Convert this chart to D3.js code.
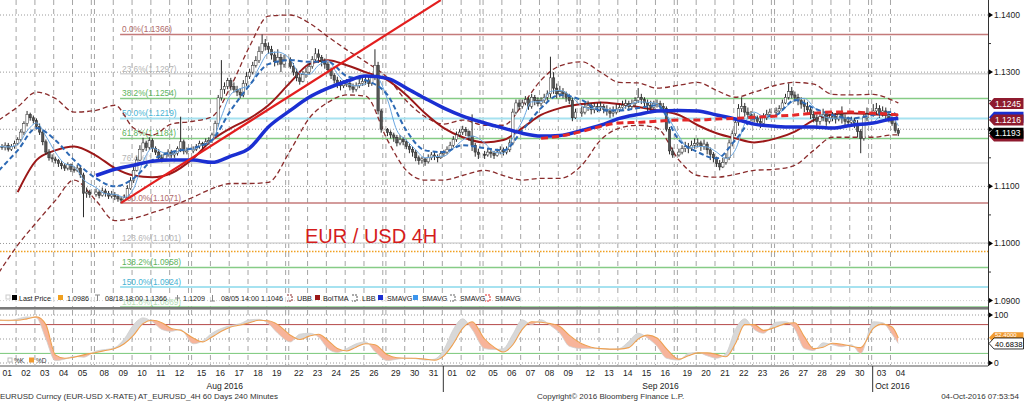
<!DOCTYPE html>
<html><head><meta charset="utf-8">
<script src="https://cdn.jsdelivr.net/npm/d3@7/dist/d3.min.js"></script>
<style>
html,body{margin:0;padding:0;background:#fff;overflow:hidden}
svg{display:block}
text{font-family:"Liberation Sans",Arial,sans-serif}
</style></head>
<body><svg id="chart" width="1024" height="401"></svg>
<script>
// ---------------- DATA ----------------
const tradingDays = [
"2016-08-01","2016-08-02","2016-08-03","2016-08-04","2016-08-05",
"2016-08-08","2016-08-09","2016-08-10","2016-08-11","2016-08-12",
"2016-08-15","2016-08-16","2016-08-17","2016-08-18","2016-08-19",
"2016-08-22","2016-08-23","2016-08-24","2016-08-25","2016-08-26",
"2016-08-29","2016-08-30","2016-08-31","2016-09-01","2016-09-02",
"2016-09-05","2016-09-06","2016-09-07","2016-09-08","2016-09-09",
"2016-09-12","2016-09-13","2016-09-14","2016-09-15","2016-09-16",
"2016-09-19","2016-09-20","2016-09-21","2016-09-22","2016-09-23",
"2016-09-26","2016-09-27","2016-09-28","2016-09-29","2016-09-30",
"2016-10-03","2016-10-04"];
const barsPerDay = 6;
const firstOpenPips = 1168;
// 4H bars, prices in pips above 1.0000 (1170 = 1.1170)
const closePips = [
1170,1168,1172,1165,1170,1175, 1182,1195,1210,1226,1220,1215, 1205,1195,1178,1160,1150,1148, 1145,1140,1136,1132,1138,1130, 1128,1132,1120,1088,1090,1086,
1090,1084,1092,1088,1083,1086, 1082,1078,1076,1080,1096,1110, 1128,1146,1165,1176,1168,1180, 1166,1160,1150,1148,1156,1160, 1155,1158,1166,1178,1162,1162,
1165,1170,1175,1172,1178,1180, 1190,1210,1255,1270,1275,1285, 1275,1270,1265,1260,1280,1292, 1300,1312,1320,1336,1350,1345, 1340,1330,1318,1326,1314,1322,
1310,1300,1290,1284,1296,1300, 1310,1322,1332,1326,1318,1314, 1304,1294,1286,1280,1276,1280, 1280,1274,1270,1276,1280,1284, 1286,1280,1290,1312,1232,1200,
1194,1190,1186,1176,1182,1178, 1170,1165,1160,1150,1145,1148, 1143,1150,1155,1152,1150,1157, 1160,1165,1172,1182,1190,1195, 1200,1196,1188,1172,1160,1156,
1155,1160,1158,1154,1160,1164, 1160,1164,1176,1230,1246,1240, 1246,1252,1240,1256,1250,1245, 1250,1256,1262,1290,1272,1262, 1266,1262,1256,1250,1220,1230,
1230,1238,1242,1234,1240,1238, 1240,1235,1232,1228,1230,1235, 1238,1242,1245,1240,1245,1250, 1256,1252,1246,1242,1238,1245, 1245,1240,1236,1200,1162,1155,
1160,1166,1170,1166,1172,1175, 1176,1170,1174,1164,1156,1150, 1140,1134,1142,1150,1176,1192, 1212,1236,1240,1230,1226,1222, 1220,1214,1210,1220,1226,1230,
1232,1236,1246,1256,1266,1260, 1256,1250,1244,1240,1234,1226, 1220,1214,1222,1226,1214,1220, 1222,1218,1226,1220,1214,1212, 1216,1210,1196,1184,1220,1226,
1232,1236,1228,1232,1226,1220, 1210,1198,1193];
const highPips = [
1176,1174,1177,1176,1174,1180, 1186,1200,1214,1232,1229,1224, 1219,1210,1199,1182,1165,1156, 1152,1148,1144,1140,1142,1140, 1135,1138,1136,1124,1098,1094,
1096,1094,1098,1096,1092,1092, 1090,1086,1082,1086,1102,1116, 1134,1152,1172,1185,1180,1186, 1184,1170,1165,1156,1160,1165, 1164,1162,1170,1222,1182,1168,
1170,1174,1180,1178,1184,1186, 1194,1215,1260,1321,1282,1290, 1290,1282,1276,1272,1286,1300, 1306,1318,1328,1345,1366,1358, 1352,1346,1336,1340,1332,1330,
1326,1316,1306,1298,1302,1308, 1316,1328,1342,1340,1330,1324, 1318,1308,1298,1292,1286,1286, 1288,1284,1280,1282,1288,1290, 1292,1292,1296,1340,1318,1236,
1202,1198,1194,1190,1190,1186, 1182,1174,1170,1164,1154,1152, 1150,1156,1160,1160,1156,1162, 1164,1170,1178,1188,1196,1200, 1206,1204,1198,1226,1176,1166,
1162,1166,1166,1162,1166,1170, 1168,1170,1182,1236,1252,1252, 1252,1258,1256,1262,1260,1256, 1256,1262,1268,1327,1300,1280, 1276,1272,1266,1262,1256,1236,
1240,1246,1250,1246,1246,1246, 1248,1244,1242,1238,1240,1244, 1244,1250,1252,1250,1252,1256, 1272,1262,1256,1252,1250,1250, 1252,1250,1246,1240,1204,1168,
1166,1172,1178,1176,1180,1184, 1184,1180,1182,1178,1168,1160, 1152,1146,1150,1158,1182,1198, 1218,1244,1256,1246,1238,1232, 1228,1224,1220,1228,1234,1236,
1238,1242,1252,1262,1280,1274, 1266,1262,1256,1252,1248,1240, 1232,1226,1230,1236,1232,1226, 1230,1228,1232,1240,1226,1222, 1222,1220,1216,1200,1226,1238,
1244,1246,1242,1240,1238,1232, 1222,1214,1202];
const lowPips = [
1162,1164,1163,1161,1162,1166, 1172,1178,1190,1205,1215,1210, 1200,1190,1172,1155,1145,1142, 1140,1134,1130,1127,1128,1125, 1124,1125,1115,1046,1080,1080,
1082,1079,1082,1082,1078,1079, 1076,1073,1071,1074,1078,1094, 1106,1126,1144,1160,1162,1164, 1160,1155,1145,1142,1144,1152, 1150,1150,1154,1160,1156,1156,
1158,1162,1166,1166,1170,1173, 1176,1188,1205,1250,1262,1270, 1268,1264,1258,1254,1256,1276, 1288,1296,1308,1316,1332,1338, 1332,1322,1310,1312,1300,1308,
1306,1294,1284,1278,1282,1290, 1296,1306,1318,1316,1310,1306, 1298,1288,1280,1272,1268,1272, 1274,1268,1264,1266,1272,1276, 1278,1274,1276,1286,1226,1194,
1188,1184,1178,1170,1172,1172, 1165,1158,1152,1144,1138,1140, 1136,1140,1146,1146,1142,1148, 1152,1156,1162,1168,1178,1186, 1190,1188,1180,1162,1152,1148,
1148,1152,1150,1148,1152,1156, 1154,1156,1160,1172,1226,1234, 1236,1242,1234,1236,1242,1240, 1240,1246,1250,1255,1262,1254, 1256,1254,1248,1244,1214,1218,
1222,1226,1232,1226,1228,1230, 1232,1228,1224,1220,1222,1226, 1230,1234,1236,1232,1236,1240, 1246,1244,1238,1232,1228,1234, 1238,1234,1230,1196,1156,1150,
1152,1156,1160,1158,1162,1166, 1168,1162,1164,1156,1146,1142, 1134,1128,1132,1138,1146,1170, 1188,1206,1230,1222,1218,1214, 1212,1206,1202,1208,1216,1222,
1224,1228,1232,1244,1252,1254, 1248,1242,1236,1230,1226,1218, 1212,1206,1208,1214,1206,1210, 1214,1210,1214,1210,1204,1204, 1206,1202,1186,1158,1180,1214,
1222,1226,1220,1222,1218,1212, 1206,1194,1188];
// indicator readings, one per day (first bar of each day) + last bar
const upperBand = [1216,1239,1265,1254,1230,1233,1242,1202,1190,1209,1214,1222,1275,1345,1398,1400,1386,1362,1339,1318,1290,1250,1222,1209,1216,1207,1207,1242,1286,1311,1318,1300,1282,1281,1272,1277,1282,1268,1256,1265,1277,1282,1279,1261,1260,1261,1251,1246];
const lowerBand = [949,997,1037,1075,1111,1075,1040,1044,1054,1065,1081,1096,1105,1105,1107,1163,1219,1247,1260,1258,1181,1128,1111,1111,1119,1128,1119,1111,1114,1114,1137,1181,1202,1207,1202,1146,1119,1116,1121,1128,1130,1137,1163,1186,1186,1186,1190,1190];
const bolTma = [null,1090,1146,1163,1170,1154,1132,1119,1116,1123,1149,1181,1202,1219,1242,1282,1314,1321,1312,1300,1286,1260,1228,1202,1186,1177,1181,1202,1225,1237,1244,1247,1244,1239,1233,1225,1207,1193,1184,1177,1184,1196,1216,1226,1228,1226,1225,1225];
const smaLong = [null,null,null,null,null,1119,1130,1137,1144,1146,1146,1142,1153,1167,1204,1233,1256,1272,1284,1293,1289,1272,1254,1237,1223,1211,1202,1193,1188,1189,1198,1207,1219,1226,1232,1233,1232,1225,1218,1209,1205,1204,1204,1202,1207,1211,1218,1219];
const smaMid = [1128,1163,1202,1181,1146,1114,1100,1114,1146,1160,1167,1181,1233,1277,1314,1321,1318,1318,1293,1286,1260,1198,1163,1160,1172,1167,1163,1198,1237,1260,1251,1233,1233,1237,1242,1181,1160,1149,1181,1219,1225,1251,1237,1225,1219,1225,1230,1219];
const smaRed = [null,null,null,null,null,null,null,null,null,null,null,null,null,null,null,null,null,null,null,null,null,null,null,null,null,null,null,null,1184,1188,1196,1205,1211,1212,1214,1216,1216,1218,1219,1221,1223,1225,1228,1230,1230,1228,1226,1225];
// readings every 3 bars (half day) + last bar
const smaShort = [1170,1169,1173,1197,1211,1188,1160,1140,1135,1112,1098,1087,1086,1081,1096,1143,1167,1160,1156,1163,1165,1173,1179,1222,1261,1271,1277,1308,1333,1335,1322,1298,1296,1312,1320,1297,1280,1276,1280,1294,1252,1198,1181,1164,1150,1152,1153,1166,1181,1188,1176,1160,1158,1185,1214,1248,1248,1266,1268,1260,1241,1236,1238,1234,1234,1242,1248,1247,1245,1226,1188,1167,1170,1169,1160,1149,1164,1210,1230,1223,1224,1238,1251,1254,1239,1223,1219,1220,1217,1207,1212,1226,1222,1206];
const stochD = [89,89,89,92,96,80,17,10,12,17,22,26,30,40,58,82,89,84,72,68,52,44,54,66,75,79,84,89,88,80,58,49,56,60,47,30,25,33,40,38,17,11,10,10,8,6,15,40,72,86,50,33,23,38,70,86,85,82,76,58,40,33,30,29,29,32,50,58,52,30,8,15,21,21,18,13,40,80,80,68,75,82,84,55,30,33,41,39,35,32,72,81,75,52.4];
const stochK = [90,88,92,96,94,50,5,8,14,12,25,28,32,50,80,94,86,70,66,70,40,46,62,72,78,82,90,91,82,62,44,60,62,54,30,22,30,40,44,24,5,8,10,9,6,8,28,70,92,70,30,28,30,60,90,80,90,78,62,35,30,30,30,28,30,45,62,52,35,10,6,20,22,15,10,20,70,92,70,62,85,86,70,30,26,42,38,34,38,20,86,84,60,40.6838];
// Fibonacci retracement (low 1.1071 on 9 Aug -> high 1.1366 on 18 Aug)
const fibPct = ["0.0%","23.6%","38.2%","50.0%","61.8%","76.4%","100.0%","123.6%","138.2%","150.0%","161.8%"];
const fibPrice = [1.1366,1.1297,1.1254,1.1219,1.1184,1.1141,1.1071,1.1001,1.0958,1.0924,1.0889];
const fibKind = ["end","grey","green","cyan","green","grey","end","grey","green","cyan","green"];
const fibAnchorBar = 38;
const trendBars = [38, 137];
const trendPrices = [1.1071, 1.1426];
const refPrice = 1.0986;
const priceTicks = [1.09,1.10,1.11,1.12,1.13,1.14];
const priceTickLabelled = [true,true,true,false,true,true];
const minorTicks = [1.095,1.105,1.115,1.125,1.135];
const stochTicks = [0,100];
const stochLevels = [100,80,50,20,0];
const tagPrices = [1.1245,1.1188,1.1221,1.1216,1.1193];
const tagTexts = ["1.1245","","","1.1216","1.1193"];
const tagColors = ["#8e1a2e","#8e1a2e","#1a2fd0","#8e1a2e","#000000"];

// ---------------- LAYOUT ----------------
const svg = d3.select("#chart");
const PL = 0, PR = 988, MT = 0, MB = 307, LT = 310, LB = 365;
const P = v => 1 + v/10000;
const parse = d3.timeParse("%Y-%m-%d");
const dts = tradingDays.map(parse);
const slotStart = []; let wk = 0;
dts.forEach((d,i)=>{ if(i>0 && d3.timeDay.count(dts[i-1], d) > 1) wk++; slotStart.push(barsPerDay*i + wk); });
const nSlots = slotStart[slotStart.length-1] + barsPerDay;
const x = d3.scaleLinear().domain([0, nSlots]).range([-2.7, -2.7 + 3.134*nSlots]);
const y = d3.scaleLinear().domain([1.09, 1.14]).range([300.6, 15]);
const ys = d3.scaleLinear().domain([0, 100]).range([363, 315]);
const nBars = closePips.length;
const barX = i => x(slotStart[Math.floor(i/barsPerDay)] + (i % barsPerDay) + 0.5);
const dailyBars = d3.range(tradingDays.length).map(k=>k*barsPerDay).concat([nBars-1]);
const halfBars = d3.range(Math.ceil(nBars/3)).map(k=>k*3).concat([nBars-1]);

svg.append("rect").attr("width",1024).attr("height",401).attr("fill","#fff");
const defs = svg.append("defs");
defs.append("clipPath").attr("id","cm").append("rect").attr("x",PL).attr("y",MT).attr("width",PR-PL).attr("height",MB-MT);
defs.append("clipPath").attr("id","cl").append("rect").attr("x",PL).attr("y",LT).attr("width",PR-PL).attr("height",LB-LT);

const main = svg.append("g").attr("clip-path","url(#cm)");
const low = svg.append("g").attr("clip-path","url(#cl)");

// horizontal grid
main.selectAll(".hg").data(priceTicks).join("line")
  .attr("x1",PL).attr("x2",PR).attr("y1",d=>y(d)).attr("y2",d=>y(d))
  .attr("stroke","#9a9a9a").attr("stroke-dasharray","1,2");

// vertical grid (day boundaries; double lines at weekends)
const vlines = [];
for (let d=1; d<tradingDays.length; d++){
  vlines.push(x(slotStart[d]));
  if (slotStart[d]-slotStart[d-1] > barsPerDay) vlines.push(x(slotStart[d-1]+barsPerDay));
}
[[main,MT,MB],[low,LT,LB]].forEach(([g,a,b])=>{
  g.selectAll(".vg").data(vlines).join("line")
   .attr("x1",d=>d).attr("x2",d=>d).attr("y1",a).attr("y2",b)
   .attr("stroke","#a5a5a5").attr("stroke-dasharray","5,4");
});

// reference (orange dotted)
main.append("line").attr("x1",PL).attr("x2",PR).attr("y1",y(refPrice)).attr("y2",y(refPrice))
  .attr("stroke","#f0a020").attr("stroke-width",1.5).attr("stroke-dasharray","1.5,1.5");

// fibonacci
const fibLine = {end:"#c47a7a", grey:"#d6d6d6", green:"#86cc86", cyan:"#a6e2f0"};
const fibText = {end:"#b06a6a", grey:"#b4b4b4", green:"#5cb45c", cyan:"#48b4d4"};
const fx0 = barX(fibAnchorBar) - 1;
fibPrice.forEach((p,i)=>{
  main.append("line").attr("x1",fx0).attr("x2",PR).attr("y1",y(p)).attr("y2",y(p))
    .attr("stroke",fibLine[fibKind[i]]).attr("stroke-width",fibKind[i]==="cyan"?2:1.5);
  main.append("text").attr("x",fx0+2).attr("y",y(p)-2).attr("font-size",8.3)
    .attr("fill",fibText[fibKind[i]]).text(fibPct[i]+"("+p.toFixed(4)+")");
});

// line helper
function series(bars, vals){ return bars.map((b,k)=>[barX(b), vals[k]]); }
const lg = d3.line().defined(d=>d[1]!=null).x(d=>d[0]).y(d=>y(P(d[1]))).curve(d3.curveMonotoneX);
function draw(bars, vals, color, w, dash){
  main.append("path").attr("d", lg(series(bars, vals))).attr("fill","none")
   .attr("stroke",color).attr("stroke-width",w).attr("stroke-dasharray",dash||null)
   .attr("stroke-linejoin","round");
}

// bollinger
draw(dailyBars, upperBand, "#8a2c2c", 1.3, "5,3");
draw(dailyBars, lowerBand, "#8a2c2c", 1.3, "5,3");
draw(dailyBars, bolTma, "#9c1818", 2);

// candles
const cg = main.append("g");
closePips.forEach((c,i)=>{
  const o = i ? closePips[i-1] : firstOpenPips;
  const cx = barX(i);
  cg.append("line").attr("x1",cx).attr("x2",cx).attr("y1",y(P(highPips[i]))).attr("y2",y(P(lowPips[i])))
    .attr("stroke","#2a2a2a").attr("stroke-width",1);
  const top = y(P(Math.max(o,c))), bot = y(P(Math.min(o,c)));
  cg.append("rect").attr("x",cx-1.2).attr("width",2.4).attr("y",top).attr("height",Math.max(1,bot-top))
    .attr("fill", c>=o ? "#ffffff" : "#555").attr("stroke","#2a2a2a").attr("stroke-width",0.5);
});

// moving averages
draw(halfBars, smaShort, "#6aa6e0", 1);
draw(dailyBars, smaMid, "#2d69b4", 2, "5,3");
draw(dailyBars, smaLong, "#1b2fd2", 3.5);
draw(dailyBars, smaRed, "#e42828", 3, "7,4");

// trend line
{
  const xa = barX(trendBars[0]), ya = y(trendPrices[0]);
  const xb = barX(trendBars[1]), yb = y(trendPrices[1]);
  main.append("line").attr("x1",xa).attr("y1",ya).attr("x2",xb).attr("y2",yb)
    .attr("stroke","#e31e1e").attr("stroke-width",2.2);
}

// title annotation
main.append("text").attr("x",305).attr("y",243).attr("font-size",20).attr("fill","#d41c1c")
  .text("EUR / USD 4H");

// legend row (semi-transparent band over the pane)
svg.append("rect").attr("x",0).attr("y",293).attr("width",PR).attr("height",12).attr("fill","#fff").attr("opacity",0.55);
const leg = svg.append("g").attr("font-size",7.2).attr("fill","#222");
const ly = 298;
const lt = (x0,s)=>leg.append("text").attr("x",x0).attr("y",ly+2.5).text(s);
leg.append("rect").attr("x",6).attr("y",ly-3).attr("width",4).attr("height",4).attr("fill","none").attr("stroke","#ccc");
leg.append("rect").attr("x",12).attr("y",ly-3).attr("width",5).attr("height",5).attr("fill","#000");
lt(19,"Last Price");
leg.append("rect").attr("x",58).attr("y",ly-3).attr("width",5).attr("height",5).attr("fill","#f0a020");
lt(67, refPrice.toFixed(4));
leg.append("path").attr("d",`M95,${ly-3}h5M97.5,${ly-3}v6`).attr("stroke","#888");
lt(105,"08/18 18:00 " + fibPrice[0].toFixed(4));
leg.append("path").attr("d",`M175,${ly}h5M177.5,${ly-3}v6`).attr("stroke","#888");
lt(183,"1.1209");
leg.append("path").attr("d",`M210,${ly+3}h5M212.5,${ly-3}v6`).attr("stroke","#888");
lt(221,"08/05 14:00 1.1046");
const icon = (x0,col)=>leg.append("path").attr("d",`M${x0},${ly-3}h5v6h-5`).attr("fill","none").attr("stroke",col).attr("stroke-dasharray","2,1");
const sq = (x0,col)=>leg.append("rect").attr("x",x0).attr("y",ly-3).attr("width",5).attr("height",5).attr("fill",col);
icon(287,"#8a2c2c"); lt(297,"UBB");
sq(315,"#9c1818"); lt(323,"BolTMA");
icon(352,"#555"); lt(362,"LBB");
sq(378,"#1b2fd2"); lt(387,"SMAVG");
sq(413,"#3c96ee"); lt(422,"SMAVG");
icon(450,"#666"); lt(460,"SMAVG");
icon(485,"#e42828"); lt(495,"SMAVG");

// separator between panes
svg.append("rect").attr("x",0).attr("y",MB).attr("width",PR).attr("height",2.6).attr("fill","#7a7a7a");

// ---------------- STOCHASTIC PANE ----------------
low.selectAll(".sl").data(stochLevels).join("line")
  .attr("x1",PL).attr("x2",PR).attr("y1",d=>ys(d)).attr("y2",d=>ys(d))
  .attr("stroke",d=>d===80?"#b44848":d===20?"#78c878":"#9a9a9a")
  .attr("stroke-dasharray",d=>(d===80||d===20)?null:"1,2");
const sD = halfBars.map((b,k)=>[barX(b), stochD[k], stochK[k]]);
defs.append("clipPath").attr("id","above").append("path")
  .attr("d", d3.area().x(d=>d[0]).y0(LT).y1(d=>ys(d[1])).curve(d3.curveMonotoneX)(sD));
defs.append("clipPath").attr("id","below").append("path")
  .attr("d", d3.area().x(d=>d[0]).y0(LB).y1(d=>ys(d[1])).curve(d3.curveMonotoneX)(sD));
const between = d3.area().x(d=>d[0]).y0(d=>ys(d[1])).y1(d=>ys(d[2])).curve(d3.curveMonotoneX)(sD);
low.append("g").attr("clip-path","url(#above)").append("path").attr("d",between).attr("fill","#d8d8d8");
low.append("g").attr("clip-path","url(#below)").append("path").attr("d",between).attr("fill","#f7b49a");
low.append("path").attr("d", d3.line().x(d=>d[0]).y(d=>ys(d[2])).curve(d3.curveMonotoneX)(sD))
  .attr("fill","none").attr("stroke","#cfcfcf").attr("stroke-width",0.8);
low.append("path").attr("d", d3.line().x(d=>d[0]).y(d=>ys(d[1])).curve(d3.curveMonotoneX)(sD))
  .attr("fill","none").attr("stroke","#eea050").attr("stroke-width",1.1);
low.append("rect").attr("x",8).attr("y",358).attr("width",4).attr("height",4).attr("fill","#fff").attr("stroke","#bbb");
low.append("text").attr("x",14).attr("y",362.5).attr("font-size",6.5).attr("fill","#333").text("%K");
low.append("rect").attr("x",29).attr("y",357.5).attr("width",5).attr("height",5).attr("fill","#f09a30");
low.append("text").attr("x",36).attr("y",362.5).attr("font-size",6.5).attr("fill","#333").text("%D");

// ---------------- AXES ----------------
svg.append("line").attr("x1",PR+0.5).attr("x2",PR+0.5).attr("y1",0).attr("y2",LB+1).attr("stroke","#333");
svg.append("line").attr("x1",0).attr("x2",PR).attr("y1",LB+1).attr("y2",LB+1).attr("stroke","#555");

const ra = svg.append("g").attr("font-size",8.5).attr("fill","#222");
priceTicks.forEach((t,i)=>{
  ra.append("path").attr("d",`M${PR+1},${y(t)-2.5}l4,2.5l-4,2.5z`).attr("fill","#000");
  if (priceTickLabelled[i]) ra.append("text").attr("x",PR+6).attr("y",y(t)).attr("dy","0.35em").text(t.toFixed(4));
});
minorTicks.forEach(t=>{
  ra.append("line").attr("x1",PR).attr("x2",PR+3).attr("y1",y(t)).attr("y2",y(t)).attr("stroke","#333");
});
stochTicks.forEach(t=>{
  ra.append("path").attr("d",`M${PR+1},${ys(t)-2.5}l4,2.5l-4,2.5z`).attr("fill","#000");
  ra.append("text").attr("x",PR+6).attr("y",ys(t)).attr("dy","0.35em").text(t);
});

// price tags
function tag(yc, bg, txt, fg, stroke, fs, dy){
  const g = svg.append("g");
  g.append("path").attr("d",`M${PR+1},${yc}l5,-5.5h${1024-PR-6.5}v11h-${1024-PR-6.5}z`)
   .attr("fill",bg).attr("stroke",stroke||"none").attr("stroke-width",0.8);
  if (txt) g.append("text").attr("x",PR+7).attr("y",yc).attr("dy",dy||"0.36em").attr("font-size",fs||8.5)
   .attr("fill",fg||"#fff").text(txt);
}
tagPrices.forEach((p,i)=>tag(y(p), tagColors[i], tagTexts[i]));
tag(ys(stochD[stochD.length-1]), "#f09a30", stochD[stochD.length-1].toFixed(4), "#fff", null, 6, "-0.1em");
tag(ys(stochK[stochK.length-1]), "#ffffff", stochK[stochK.length-1].toFixed(4), "#000", "#000", 7.6, "0.45em");

// date axis
const dayTicks = dts.map((d,i)=>slotStart[i]+barsPerDay/2);
const xa = d3.axisBottom(x).tickValues(dayTicks).tickSize(0).tickPadding(4)
  .tickFormat((v,i)=>d3.timeFormat("%d")(dts[i]));
const ax = svg.append("g").attr("transform",`translate(0,${LB+1})`).call(xa);
ax.select(".domain").remove();
ax.selectAll("text").attr("font-size",8.5).attr("fill","#222").attr("font-family","Liberation Sans, Arial, sans-serif");

const months = d3.groups(dts.map((d,i)=>({d,i})), o=>d3.timeFormat("%b %Y")(o.d));
months.forEach(([label, arr],k)=>{
  const a = x(slotStart[arr[0].i]), b = x(slotStart[arr[arr.length-1].i]+barsPerDay);
  svg.append("text").attr("x",(a+b)/2 + (k<2?5:2)).attr("y",389).attr("text-anchor","middle")
    .attr("font-size",8.5).attr("fill","#222").text(label);
  if (k>0) svg.append("line").attr("x1",a+1).attr("x2",a+1).attr("y1",LB+1).attr("y2",392).attr("stroke","#333");
});

// footer
svg.append("text").attr("x",0).attr("y",399).attr("font-size",8).attr("fill","#333")
  .text("EURUSD Curncy (EUR-USD X-RATE) AT_EURUSD_4H 60 Days 240 Minutes");
svg.append("text").attr("x",537).attr("y",399).attr("font-size",8).attr("fill","#333")
  .text("Copyright\u00a9 2016 Bloomberg Finance L.P.");
svg.append("text").attr("x",1019).attr("y",399).attr("text-anchor","end").attr("font-size",8).attr("fill","#333")
  .text("04-Oct-2016 07:53:54");
</script>
</body></html>
